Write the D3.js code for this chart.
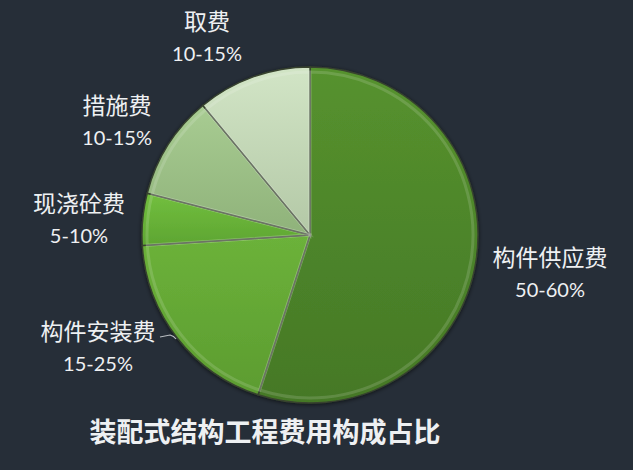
<!DOCTYPE html>
<html>
<head>
<meta charset="UTF-8">
<title>装配式结构工程费用构成占比</title>
<script src="https://d3js.org/d3.v7.min.js"></script>
<style>
  body { margin: 0; background: #262e38; }
  svg { display: block; }
</style>
</head>
<body>
<script>
  var width = 633, height = 470;
  var cx = 310, cy = 235, radius = 168;

  // data
  var names = ["构件供应费", "构件安装费", "现浇砼费", "措施费", "取费"];
  var ranges = ["50-60%", "15-25%", "5-10%", "10-15%", "10-15%"];
  var shares = [55, 19, 5, 10, 11];
  var colors = [
    ["#56922e", "#457826"],
    ["#6cb23a", "#5c9c30"],
    ["#72bf3e", "#5ea532"],
    ["#a8cc92", "#8fb27a"],
    ["#d2e5c6", "#b3c8a6"]
  ];
  // label anchor (center x, baseline of name line)
  var labelPos = [[550, 266], [98, 340], [79, 212], [117, 114], [207, 30]];

  var svg = d3.select("body").append("svg")
    .attr("width", width).attr("height", height);

  var defs = svg.append("defs");
  colors.forEach(function(c, i) {
    var g = defs.append("linearGradient").attr("id", "g" + i)
      .attr("x1", 0).attr("y1", 0).attr("x2", 0).attr("y2", 1);
    g.append("stop").attr("offset", "0%").attr("stop-color", c[0]);
    g.append("stop").attr("offset", "100%").attr("stop-color", c[1]);
  });
  var sh = defs.append("filter").attr("id", "shadow")
    .attr("x", "-10%").attr("y", "-10%").attr("width", "120%").attr("height", "120%");
  sh.append("feDropShadow").attr("dx", 0).attr("dy", 1).attr("stdDeviation", 2)
    .attr("flood-color", "#000").attr("flood-opacity", 0.6);

  var pie = d3.pie().sort(null).value(function(d) { return d; });
  var arcs = pie(shares);
  var arc = d3.arc().innerRadius(0).outerRadius(radius);
  var inner = d3.arc().innerRadius(0).outerRadius(radius - 5);

  var g = svg.append("g").attr("transform", "translate(" + cx + "," + cy + ")");

  g.append("g").attr("filter", "url(#shadow)")
    .selectAll("path").data(arcs).enter().append("path")
    .attr("d", arc)
    .attr("fill", function(d, i) { return "url(#g" + i + ")"; })
    .attr("stroke", "#37432e")
    .attr("stroke-width", 1.4);

  // soft bevel highlight along the rim
  g.selectAll("path.bevel").data(arcs).enter().append("path")
    .attr("class", "bevel")
    .attr("d", inner)
    .attr("fill", "none")
    .attr("stroke", "#ffffff")
    .attr("stroke-opacity", 0.14)
    .attr("stroke-width", 3);

  // leader line for 构件安装费
  svg.append("path")
    .attr("d", "M160,337 L170,335 Q174,336 176,339")
    .attr("fill", "none")
    .attr("stroke", "#b8bcc0")
    .attr("stroke-width", 1.2);

  var labels = svg.append("g").attr("text-anchor", "middle").attr("fill", "#eef0f2");
  names.forEach(function(n, i) {
    labels.append("text")
      .attr("x", labelPos[i][0]).attr("y", labelPos[i][1])
      .attr("font-family", "'Noto Sans CJK SC', sans-serif")
      .attr("font-size", 23)
      .text(n);
    labels.append("text")
      .attr("x", labelPos[i][0]).attr("y", labelPos[i][1] + 31)
      .attr("font-family", "Lato, 'Noto Sans', sans-serif")
      .attr("font-size", 20)
      .text(ranges[i]);
  });

  svg.append("text")
    .attr("x", 265).attr("y", 442)
    .attr("text-anchor", "middle")
    .attr("fill", "#eef0f2")
    .attr("font-family", "'Noto Sans CJK SC', sans-serif")
    .attr("font-weight", "bold")
    .attr("font-size", 27)
    .text("装配式结构工程费用构成占比");
</script>
</body>
</html>
